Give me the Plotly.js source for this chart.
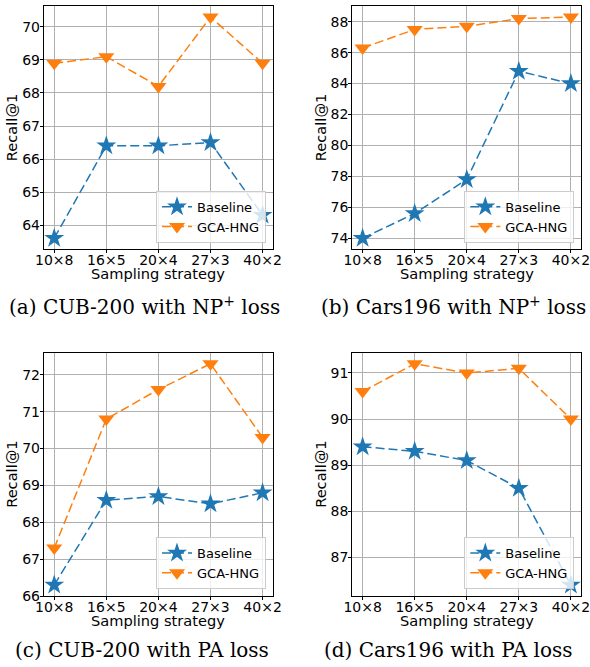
<!DOCTYPE html>
<html><head><meta charset="utf-8">
<script src="https://cdn.plot.ly/plotly-3.0.1.min.js"></script>
<style>body{margin:0;padding:0;background:#fff}#chart{width:590px;height:667px}</style>
</head><body><div id="chart"></div>
<script>
const categories = ["10×8", "16×5", "20×4", "27×3", "40×2"];
const seriesNames = ["Baseline", "GCA-HNG"];
const xAxisTitle = "Sampling strategy";
const yAxisTitle = "Recall@1";
// (a) CUB-200 with NP+ loss
const cubNpBaseline = [63.6, 66.4, 66.4, 66.5, 64.3];
const cubNpGca = [68.9, 69.1, 68.2, 70.3, 68.9];
// (b) Cars196 with NP+ loss
const carsNpBaseline = [74.0, 75.6, 77.8, 84.8, 84.0];
const carsNpGca = [86.3, 87.5, 87.7, 88.2, 88.3];
// (c) CUB-200 with PA loss
const cubPaBaseline = [66.3, 68.6, 68.7, 68.5, 68.8];
const cubPaGca = [67.3, 70.8, 71.6, 72.3, 70.3];
// (d) Cars196 with PA loss
const carsPaBaseline = [89.4, 89.3, 89.1, 88.5, 86.4];
const carsPaGca = [90.6, 91.2, 91.0, 91.1, 90.0];
const captions = ["(a) CUB-200 with NP<sup>+</sup> loss", "(b) Cars196 with NP<sup>+</sup> loss",
                  "(c) CUB-200 with PA loss", "(d) Cars196 with PA loss"];
const yTicks = [[64,65,66,67,68,69,70],[74,76,78,80,82,84,86,88],[66,67,68,69,70,71,72],[87,88,89,90,91]];

const blue = "#1f77b4", orange = "#ff7f0e";
const panels = [
  {b: cubNpBaseline, g: cubNpGca},
  {b: carsNpBaseline, g: carsNpGca},
  {b: cubPaBaseline, g: cubPaGca},
  {b: carsPaBaseline, g: carsPaGca}
];
const W = 590, H = 667;
const boxes = [
  {l: 43.8, r: 273, t: 6, bt: 249.3},
  {l: 352.2, r: 581.3, t: 6, bt: 249.3},
  {l: 43.8, r: 273, t: 352.7, bt: 596},
  {l: 352.2, r: 581.3, t: 352.7, bt: 596}
];
const legendPos = [
  {x: 266, y: 242.7}, {x: 574.3, y: 242.7}, {x: 266, y: 589}, {x: 574.3, y: 589}
];
const captionPos = [{x: 144, y: 306}, {x: 453, y: 306}, {x: 142, y: 650}, {x: 448, y: 650}];
const yTitleX = [11.5, 320.5, 11.5, 320.5];
const tickFont = {family: "DejaVu Sans", size: 14, color: "#000"};
const labelFont = {family: "DejaVu Sans", size: 14.6, color: "#000"};
const traces = [];
const layout = {
  width: W, height: H, margin: {l: 0, r: 0, t: 0, b: 0},
  paper_bgcolor: "#fff", plot_bgcolor: "#fff", showlegend: true,
  annotations: []
};
panels.forEach((p, i) => {
  const n = i + 1;
  const sfx = (n === 1 ? "" : String(n));
  const xa = "x" + sfx, ya = "y" + sfx, lg = "legend" + sfx;
  const vals = p.b.concat(p.g);
  const mn = Math.min(...vals), mx = Math.max(...vals), pad = (mx - mn) * 0.05;
  const xs = categories.map((_, k) => k);
  traces.push({
    x: xs, y: p.b, name: seriesNames[0], xaxis: xa, yaxis: ya, legend: lg,
    mode: "lines+markers", line: {color: blue, width: 1.5, dash: "9px,4px"},
    marker: {symbol: "star", size: 15, color: blue, line: {width: 0}}
  });
  traces.push({
    x: xs, y: p.g, name: seriesNames[1], xaxis: xa, yaxis: ya, legend: lg,
    mode: "lines+markers", line: {color: orange, width: 1.5, dash: "9px,4px"},
    marker: {symbol: "triangle-down", size: 14, color: orange, line: {width: 0}}
  });
  const b = boxes[i];
  const axCommon = {
    showline: true, linecolor: "#000", linewidth: 1, mirror: true,
    showgrid: true, gridcolor: "#b0b0b0", gridwidth: 1, zeroline: false,
    ticks: "outside", ticklen: 3, tickcolor: "#000", tickwidth: 1,
    tickfont: tickFont, ticklabeloverflow: "allow"
  };
  layout["xaxis" + sfx] = Object.assign({}, axCommon, {
    domain: [b.l / W, b.r / W], anchor: ya, ticklabelstandoff: -5,
    range: [-0.2, 4.2], tickmode: "array", tickvals: xs, ticktext: categories
  });
  layout["yaxis" + sfx] = Object.assign({}, axCommon, {
    domain: [1 - b.bt / H, 1 - b.t / H], anchor: xa, ticklabelstandoff: -3,
    range: [mn - pad, mx + pad], tickmode: "array", tickvals: yTicks[i]
  });
  layout[lg] = {
    x: legendPos[i].x / W, y: 1 - legendPos[i].y / H, xanchor: "right", yanchor: "bottom",
    bgcolor: "rgba(255,255,255,0.8)", bordercolor: "#cccccc", borderwidth: 1,
    font: {family: "DejaVu Sans", size: 13, color: "#000"}, tracegroupgap: 0, itemwidth: 30
  };
  // axis titles
  layout.annotations.push({
    xref: "paper", yref: "paper", x: (b.l + b.r) / 2 / W, y: 1 - (b.bt + 24) / H,
    xanchor: "center", yanchor: "middle", showarrow: false, text: xAxisTitle, font: labelFont
  });
  layout.annotations.push({
    xref: "paper", yref: "paper", x: yTitleX[i] / W, y: 1 - (b.t + b.bt) / 2 / H,
    xanchor: "center", yanchor: "middle", showarrow: false, text: yAxisTitle, font: labelFont,
    textangle: -90
  });
  layout.annotations.push({
    xref: "paper", yref: "paper", x: captionPos[i].x / W, y: 1 - captionPos[i].y / H,
    xanchor: "center", yanchor: "middle", showarrow: false, text: captions[i],
    font: {family: "DejaVu Serif", size: 20, color: "#000"}
  });
});
Plotly.newPlot("chart", traces, layout, {staticPlot: true});
</script>
</body></html>
